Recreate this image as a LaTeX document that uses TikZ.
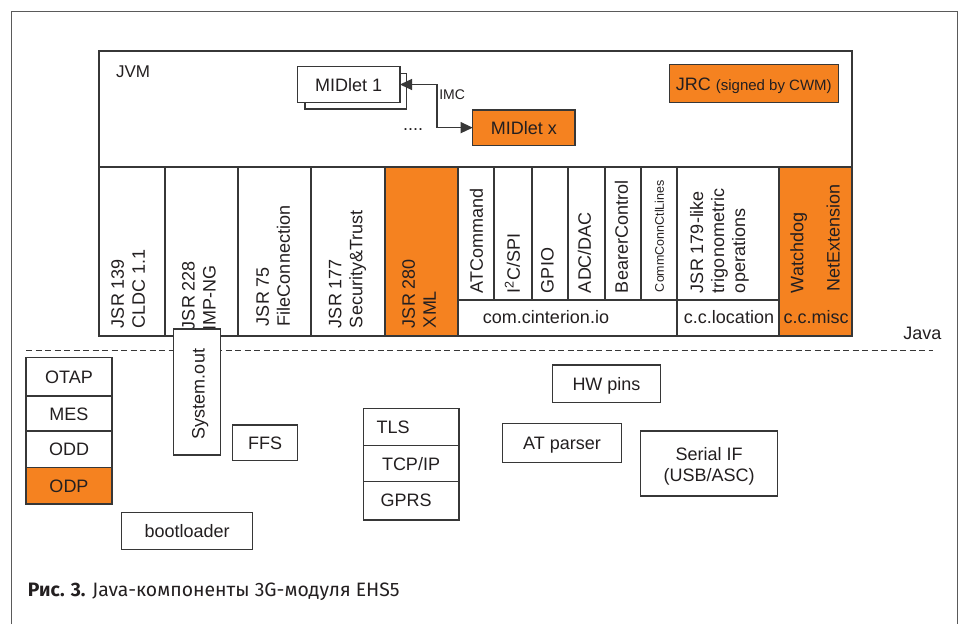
\documentclass[tikz,border=0pt]{standalone}
\usepackage{fontspec}
\setmainfont{Liberation Sans}
\newfontfamily\capfont{Fira Sans}
\usetikzlibrary{arrows.meta}
\definecolor{orng}{RGB}{245,130,32}
\definecolor{ln}{RGB}{55,55,55}
\definecolor{txt}{RGB}{35,31,32}
\definecolor{frm}{RGB}{90,90,90}
\newcommand\mybox[7][]{\node[bx,#1,minimum width={(#5)-(#3)},minimum height={(#6)-(#4)}] (#2) at ({((#3)+(#5))/2},{((#4)+(#6))/2}) {#7};}
\begin{document}
\begin{tikzpicture}[x=1pt,y=-1pt,
  bx/.style={draw=ln,line width=1.3pt,fill=white,inner sep=0pt,outer sep=0pt,text=txt,font=\fontsize{18}{21}\selectfont,text height=13pt,text depth=0pt},
  ob/.style={fill=orng},
  vt/.style={rotate=90,anchor=west,inner sep=0pt,outer sep=0pt,align=left,text=txt,font=\fontsize{18}{21}\selectfont},
  ht/.style={anchor=base,inner sep=0pt,outer sep=0pt,text=txt,font=\fontsize{18}{21}\selectfont},
  arr/.style={draw=ln,line width=1.2pt,{Triangle[length=12pt,width=11pt]}-{Triangle[length=12pt,width=11pt]}},
]
\useasboundingbox (0,0) rectangle (964,624);
% outer frame
\coordinate (f1) at (11,624);
\coordinate (f2) at (11,11);
\coordinate (f3) at (957,11);
\coordinate (f4) at (957,624);
\draw[frm,line width=1pt] (f1) -- (f2) -- (f3) -- (f4);
% JVM
\mybox{jvm}{99}{51}{852}{336}{}
\node[ht,anchor=base west,font=\fontsize{17}{20}\selectfont] (jvml) at (116,77.3) {JVM};
\mybox{m1b}{305}{73.3}{406.7}{109}{}
\mybox{m1}{297.3}{66.7}{400}{102.3}{MIDlet 1}
\mybox[ob]{mx}{472.7}{110}{575}{145.3}{MIDlet x}
\mybox[ob]{jrc}{669.3}{64.3}{838.3}{102.7}{JRC {\fontsize{15}{18}\selectfont(signed by CWM)}}
\node[ht,anchor=base west,font=\fontsize{14}{16}\selectfont] (imcl) at (439.3,99) {IMC};
\node[ht,anchor=base west] (dots) at (403,130) {....};
\coordinate (bend) at (437,0);
\draw[arr] (m1.east) -- (m1.east -| bend) |- (mx.west);
% columns
\mybox{c1}{99}{167}{165}{336}{}
\mybox{c2}{165}{167}{238}{336}{}
\mybox{c3}{238}{167}{311}{336}{}
\mybox{c4}{311}{167}{385}{336}{}
\mybox[ob]{c5}{385}{167}{458}{336}{}
\mybox{io1}{458}{167}{494}{300}{}
\mybox{io2}{494}{167}{532}{300}{}
\mybox{io3}{532}{167}{568}{300}{}
\mybox{io4}{568}{167}{605}{300}{}
\mybox{io5}{605}{167}{641}{300}{}
\mybox{io6}{641}{167}{677}{300}{}
\mybox{iob}{458}{300}{677}{336}{}
\mybox{loc}{677}{167}{779}{300}{}
\mybox{locb}{677}{300}{779}{336}{}
\mybox[ob]{misc}{779}{167}{852}{336}{}
\node[vt] (t1) at (128.3,328) {JSR 139\\CLDC 1.1};
\node[vt] (t2) at (199,330) {JSR 228\\IMP-NG};
\node[vt] (t3) at (273.3,326) {JSR 75\\FileConnection};
\node[vt] (t4) at (347.5,328) {JSR 177\\Security\&Trust};
\node[vt] (t5) at (419,328) {JSR 280\\XML};
\node[vt] (a1) at (476.5,293) {ATCommand};
\node[vt] (a2) at (512.5,293) {I\textsuperscript{2}C/SPI};
\node[vt] (a3) at (547.5,293) {GPIO};
\node[vt] (a4) at (584.5,293) {ADC/DAC};
\node[vt] (a5) at (621.5,293) {BearerControl};
\node[vt,font=\fontsize{12.5}{15}\selectfont] (a6) at (659.5,292) {CommConnCtlLines};
\node[vt] (lt) at (719.4,293) {JSR 179-like\\trigonometric\\operations};
\node[vt] (wd) at (798.6,293.3) {Watchdog};
\node[vt] (ne) at (833.3,291.7) {NetExtension};
\node[ht] (iot) at (546,323.3) {com.cinterion.io};
\node[ht] (loct) at (729,323.3) {c.c.location};
\node[ht] (misct) at (816,323.3) {c.c.misc};
\node[ht,anchor=base west] (java) at (903.3,339.3) {Java};
% dashed separator
\coordinate (dl) at (26,350.7);
\coordinate (dr) at (933,350.7);
\draw[ln,line width=1.2pt,dash pattern=on 6pt off 3.5pt] (dl) -- (dr);
% lower part
\mybox{otap}{26}{357.7}{112}{396}{OTAP}
\mybox{mes}{26}{396}{112}{431}{MES}
\mybox{odd}{26}{431}{112}{467.7}{ODD}
\mybox[ob]{odp}{26}{467.7}{112}{504}{ODP}
\mybox{sys}{173.3}{329}{220.7}{455}{}
\node[vt,anchor=center] (syst) at (200.2,394) {System.out};
\mybox{ffs}{232.3}{425}{297.7}{460.3}{FFS}
\mybox{boot}{121.7}{512.3}{252.7}{549.3}{bootloader}
\mybox{tls}{363.3}{408.3}{459}{445.7}{}
\mybox{tcp}{363.3}{445.7}{459}{481.7}{}
\mybox{gprs}{363.3}{481.7}{459}{520}{}
\node[ht,anchor=base west] (tlst) at (376.7,433.3) {TLS};
\node[ht,anchor=base west] (tcpt) at (382,470) {TCP/IP};
\node[ht,anchor=base west] (gprst) at (380.7,506.7) {GPRS};
\mybox{hw}{552.7}{365}{660.3}{402.3}{HW pins}
\mybox{atp}{502.3}{423.3}{621.7}{462.3}{AT parser}
\mybox{ser}{640.7}{431}{777.7}{496}{}
\node[ht] (ser1) at (709.2,460) {Serial IF};
\node[ht] (ser2) at (709.2,481.7) {(USB/ASC)};
% caption
\node[anchor=base west,inner sep=0pt,text=txt,font=\capfont\fontsize{19.4}{22}\selectfont] (cap) at (27.7,596.7) {\textbf{Рис. 3.} Java-компоненты 3G-модуля EHS5};
\end{tikzpicture}
\end{document}
